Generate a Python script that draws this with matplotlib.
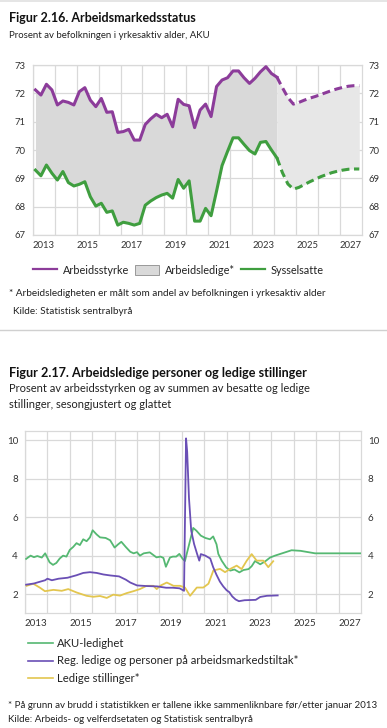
import matplotlib
matplotlib.use("Agg")
import matplotlib.pyplot as plt
import numpy as np
from matplotlib.lines import Line2D
from matplotlib.patches import Patch

# ---------------- Figure 2.16 data (quarterly, 2013Q1 ... 2027Q4) ----------------
quarters_start = 2013
arbeidsstyrke = [72.12, 71.94, 72.32, 72.12, 71.59, 71.73, 71.68, 71.59,
                 72.06, 72.20, 71.76, 71.53, 71.82, 71.33, 71.35, 70.62,
                 70.65, 70.73, 70.35, 70.35, 70.90, 71.10, 71.26, 71.14,
                 71.26, 70.82, 71.79, 71.61, 71.56, 70.79, 71.41, 71.62,
                 71.18, 72.24, 72.47, 72.55, 72.79, 72.79, 72.55, 72.35,
                 72.53, 72.76, 72.94, 72.70, 72.57]
arbeidsstyrke_prog = [72.57, 72.20, 71.85, 71.62, 71.68, 71.76, 71.83, 71.89,
                      71.96, 72.03, 72.10, 72.16, 72.21, 72.25, 72.27, 72.27]
sysselsatte = [69.29, 69.09, 69.47, 69.18, 68.94, 69.24, 68.85, 68.73,
               68.79, 68.88, 68.35, 68.02, 68.12, 67.80, 67.85, 67.35,
               67.45, 67.41, 67.35, 67.41, 68.05, 68.20, 68.32, 68.41,
               68.47, 68.30, 68.96, 68.65, 68.91, 67.49, 67.49, 67.94,
               67.68, 68.55, 69.45, 69.95, 70.43, 70.43, 70.20, 69.98,
               69.86, 70.27, 70.30, 70.00, 69.72]
sysselsatte_prog = [69.72, 69.20, 68.80, 68.62, 68.68, 68.78, 68.88, 68.97,
                    69.06, 69.13, 69.20, 69.25, 69.29, 69.32, 69.33, 69.33]

# ---------------- Figure 2.17 data (decimal year, percent) ----------------
aku_t = [2013.05, 2013.25, 2013.40, 2013.55, 2013.75, 2013.90, 2014.10, 2014.25,
         2014.40, 2014.55, 2014.70, 2014.85, 2015.00, 2015.15, 2015.30, 2015.45,
         2015.60, 2015.75, 2015.90, 2016.02, 2016.20, 2016.35, 2016.60, 2016.80,
         2017.00, 2017.15, 2017.30, 2017.50, 2017.70, 2017.85, 2018.00, 2018.13,
         2018.30, 2018.57, 2018.87, 2019.05, 2019.18, 2019.29, 2019.47, 2019.60,
         2019.75, 2019.89, 2020.04, 2020.14, 2020.33, 2020.51, 2020.65, 2020.85,
         2021.05, 2021.26, 2021.40, 2021.55, 2021.63, 2021.78, 2021.98, 2022.16,
         2022.35, 2022.57, 2022.75, 2022.98, 2023.12, 2023.27, 2023.50, 2023.72,
         2023.94, 2024.16, 2024.53, 2024.90, 2025.30, 2025.70, 2025.95, 2027.96]
aku_v = [3.83, 4.00, 3.92, 3.98, 3.90, 4.12, 3.65, 3.52,
         3.62, 3.85, 4.00, 3.95, 4.30, 4.45, 4.65, 4.55,
         4.85, 4.75, 4.95, 5.32, 5.10, 4.95, 4.92, 4.80,
         4.42, 4.58, 4.72, 4.45, 4.20, 4.12, 4.18, 4.00,
         4.12, 4.17, 3.91, 3.95, 3.88, 3.42, 3.90, 3.95,
         3.95, 4.09, 3.83, 3.72, 4.60, 5.44, 5.30, 5.04,
         4.92, 4.85, 5.00, 4.59, 4.09, 3.74, 3.39, 3.22,
         3.28, 3.13, 3.25, 3.30, 3.45, 3.72, 3.55, 3.70,
         3.90, 4.00, 4.14, 4.28, 4.25, 4.17, 4.12, 4.12]

reg_t = [2013.05, 2013.40, 2013.60, 2013.90, 2014.00, 2014.20, 2014.50, 2014.90,
         2015.30, 2015.60, 2015.90, 2016.20, 2016.50, 2016.80, 2017.20, 2017.50,
         2017.70, 2018.00, 2018.40, 2018.90, 2019.30, 2019.60, 2019.90, 2020.10,
         2020.19, 2020.24, 2020.32, 2020.42, 2020.55, 2020.68, 2020.78, 2020.85,
         2021.05, 2021.27, 2021.40, 2021.55, 2021.70, 2021.85, 2022.00, 2022.12,
         2022.25, 2022.40, 2022.55, 2022.80, 2023.30, 2023.50, 2023.80, 2024.28]
reg_v = [2.49, 2.55, 2.62, 2.72, 2.80, 2.72, 2.80, 2.85,
         2.98, 3.10, 3.14, 3.10, 3.02, 2.97, 2.92, 2.75,
         2.60, 2.45, 2.42, 2.40, 2.33, 2.33, 2.30, 2.17,
         10.10, 9.40, 7.00, 5.30, 4.60, 4.10, 3.74, 4.08,
         4.00, 3.85, 3.40, 3.00, 2.65, 2.40, 2.20, 2.10,
         1.88, 1.72, 1.63, 1.68, 1.70, 1.85, 1.91, 1.93]

ledst_t = [2013.07, 2013.37, 2013.67, 2013.89, 2014.27, 2014.64, 2014.93, 2015.31,
           2015.75, 2016.05, 2016.35, 2016.65, 2016.94, 2017.24, 2017.54, 2017.84,
           2018.13, 2018.43, 2018.73, 2018.88, 2019.03, 2019.33, 2019.63, 2019.92,
           2020.14, 2020.37, 2020.67, 2020.96, 2021.19, 2021.41, 2021.71, 2021.93,
           2022.15, 2022.45, 2022.67, 2022.90, 2023.12, 2023.34, 2023.64, 2023.86,
           2024.08]
ledst_v = [2.43, 2.54, 2.33, 2.15, 2.22, 2.17, 2.26, 2.08,
           1.91, 1.86, 1.90, 1.80, 1.97, 1.92, 2.05, 2.15,
           2.26, 2.43, 2.43, 2.26, 2.43, 2.60, 2.43, 2.43,
           2.34, 1.91, 2.34, 2.34, 2.54, 3.23, 3.31, 3.14,
           3.30, 3.48, 3.30, 3.74, 4.08, 3.74, 3.74, 3.40,
           3.71]

years = list(range(2013, 2028))
year_labels = [str(y) for y in range(2013, 2028, 2)]

# ---------------- styling ----------------
FONT = ["Lato", "DejaVu Sans"]
plt.rcParams['font.family'] = FONT
W, H = 387, 728
DPI = 100
PURPLE = '#8c3c9a'
GREEN = '#3f9e3f'
AKU_G = '#55b872'
REG_P = '#6a4fb5'
LED_Y = '#e3c64f'
GRID = '#d9d9d9'
TXT = '#333333'

fig = plt.figure(figsize=(W / DPI, H / DPI), dpi=DPI)
fig.patch.set_facecolor('white')


def fx(px):
    return px / W


def fy(py):
    return 1 - py / H


def axes_px(l, t, r, b):
    return fig.add_axes([fx(l), fy(b), fx(r) - fx(l), fy(t) - fy(b)])


def style_axes(ax, ylim, yticks, lsize):
    ax.set_xlim(2013, 2028)
    ax.set_ylim(*ylim)
    ax.set_xticks(years, minor=False)
    ax.set_xticklabels([])
    ax.set_xticks([y + 0.5 for y in range(2013, 2028, 2)], minor=True)
    ax.set_xticklabels(year_labels, minor=True)
    ax.tick_params(axis='x', which='both', length=0, pad=4, labelsize=lsize, colors=TXT)
    ax.set_yticks(yticks)
    ax.set_yticklabels([str(v) for v in yticks])
    ax.tick_params(axis='y', length=0, pad=5, labelsize=lsize, colors=TXT,
                   labelright=True, right=False)
    ax.grid(True, which='major', color=GRID, lw=0.9)
    ax.set_axisbelow(True)
    for s in ax.spines.values():
        s.set_color(GRID)
        s.set_linewidth(0.9)


# top faint separator
fig.add_artist(Line2D([0, 1], [fy(1), fy(1)], color='#e0e0e0', lw=1.2))

# ---------------- Figure 2.16 ----------------
fig.text(fx(9), fy(22.5), 'Figur 2.16. Arbeidsmarkedsstatus', fontsize=9.0,
         fontweight='bold', va='baseline', ha='left', color='#111111')
fig.text(fx(9), fy(38), 'Prosent av befolkningen i yrkesaktiv alder, AKU',
         fontsize=6.9, va='baseline', ha='left', color='#222222')

ax1 = axes_px(32.7, 65, 362, 235)
style_axes(ax1, (67, 73), [67, 68, 69, 70, 71, 72, 73], 6.8)

n_hist = len(arbeidsstyrke)
t_hist = np.array([quarters_start + (i + 0.5) / 4 for i in range(n_hist)])
t_prog = np.array([quarters_start + (n_hist - 1 + i + 0.5) / 4 for i in range(len(arbeidsstyrke_prog))])

ax1.fill_between(t_hist, sysselsatte, arbeidsstyrke, color='#d9d9d9', lw=0, zorder=1)
ax1.fill_between(t_prog, sysselsatte_prog, arbeidsstyrke_prog, color='#e7e7e7', lw=0, zorder=1)
ax1.plot(t_hist, arbeidsstyrke, color=PURPLE, lw=2.2, zorder=3)
ax1.plot(t_hist, sysselsatte, color=GREEN, lw=2.2, zorder=3)
ax1.plot(t_prog, arbeidsstyrke_prog, color=PURPLE, lw=2.2, dashes=(2.6, 1.5), zorder=3)
ax1.plot(t_prog, sysselsatte_prog, color=GREEN, lw=2.2, dashes=(2.6, 1.5), zorder=3)

handles1 = [Line2D([], [], color=PURPLE, lw=1.6),
            Patch(facecolor='#d9d9d9', edgecolor='#8c8c8c', lw=0.6),
            Line2D([], [], color=GREEN, lw=1.6)]
fig.legend(handles1, ['Arbeidsstyrke', 'Arbeidsledige*', 'Sysselsatte'],
           loc='center', bbox_to_anchor=(fx(178.5), fy(270)), ncol=3, frameon=False,
           fontsize=7.8, handlelength=2.2, handleheight=1.0, handletextpad=0.5,
           columnspacing=0.6, labelcolor='#222222', borderpad=0, borderaxespad=0)

fig.text(fx(9), fy(296), '* Arbeidsledigheten er målt som andel av befolkningen i yrkesaktiv alder',
         fontsize=7.2, va='baseline', ha='left', color='#222222')
fig.text(fx(13), fy(314), 'Kilde: Statistisk sentralbyrå',
         fontsize=7.2, va='baseline', ha='left', color='#222222')

fig.add_artist(Line2D([0, 1], [fy(330), fy(330)], color='#d0d0d0', lw=1.0))

# ---------------- Figure 2.17 ----------------
fig.text(fx(9), fy(376.5), 'Figur 2.17. Arbeidsledige personer og ledige stillinger',
         fontsize=9.1, fontweight='bold', va='baseline', ha='left', color='#111111')
fig.text(fx(9), fy(392.5), 'Prosent av arbeidsstyrken og av summen av besatte og ledige',
         fontsize=8.0, va='baseline', ha='left', color='#222222')
fig.text(fx(9), fy(407.5), 'stillinger, sesongjustert og glattet',
         fontsize=8.0, va='baseline', ha='left', color='#222222')

ax2 = axes_px(25, 430.7, 361, 613.3)
style_axes(ax2, (1, 10.5), [2, 4, 6, 8, 10], 7.0)
ax2.plot(aku_t, aku_v, color=AKU_G, lw=1.3, zorder=3)
ax2.plot(ledst_t, ledst_v, color=LED_Y, lw=1.3, zorder=3)
ax2.plot(reg_t, reg_v, color=REG_P, lw=1.3, zorder=4)

handles2 = [Line2D([], [], color=AKU_G, lw=1.2),
            Line2D([], [], color=REG_P, lw=1.2),
            Line2D([], [], color=LED_Y, lw=1.2)]
fig.legend(handles2, ['AKU-ledighet', 'Reg. ledige og personer på arbeidsmarkedstiltak*',
                      'Ledige stillinger*'],
           loc='center left', bbox_to_anchor=(fx(28), fy(661)), ncol=1, frameon=False,
           fontsize=8.1, handlelength=2.2, handletextpad=0.35, labelspacing=0.6,
           labelcolor='#222222', borderaxespad=0, borderpad=0)

fig.text(fx(8), fy(708), '* På grunn av brudd i statistikken er tallene ikke sammenliknbare før/etter januar 2013',
         fontsize=7.0, va='baseline', ha='left', color='#222222')
fig.text(fx(8), fy(722.5), 'Kilde: Arbeids- og velferdsetaten og Statistisk sentralbyrå',
         fontsize=7.0, va='baseline', ha='left', color='#222222')

fig.savefig('out.png', dpi=DPI, facecolor='white')
